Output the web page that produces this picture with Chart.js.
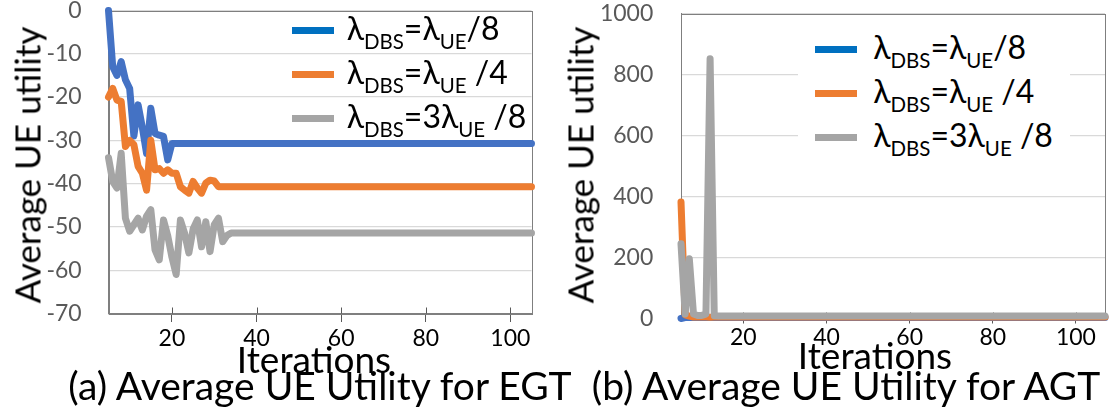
<!DOCTYPE html>
<html>
<head>
<meta charset="utf-8">
<title>Average UE utility</title>
<script src="https://cdn.jsdelivr.net/npm/chart.js@4.4.0/dist/chart.umd.min.js"></script>
<style>
  html, body { margin: 0; padding: 0; background: #fff; }
  #page { position: relative; width: 1119px; height: 417px; overflow: hidden;
          font-family: Lato, "Noto Sans", sans-serif; color: #000; }
  .panel { position: absolute; top: 0; height: 417px; }
  #panel-egt { left: 0; width: 556px; }
  #panel-agt { left: 556px; width: 563px; }
  .txt { position: absolute; white-space: nowrap; line-height: 1; }
  .ytitle { font-size: 35px; transform: translate(-50%, -50%) rotate(-90deg); }
  .xtitle { font-size: 37px; transform: translateX(-50%); }
  .caption { font-size: 39px; transform: translateX(-50%); }
  .legend { position: absolute; }
  .legend.boxed { background: #fff; }
  .legend .row { position: absolute; left: 0; height: 0; }
  .legend .sw { position: absolute; top: -13.5px; width: 42px; height: 7px; }
  .legend .lbl { position: absolute; top: -28.4px; font-size: 32px; line-height: 32px; white-space: nowrap; }
  .legend sub { font-size: 0.64em; vertical-align: -9px; line-height: 0; }
</style>
</head>
<body>
<div id="page">
  <div class="panel" id="panel-egt"><canvas id="egt"></canvas></div>
  <div class="panel" id="panel-agt"><canvas id="agt"></canvas></div>

  <div class="txt ytitle" style="left:27px; top:165px;">Average UE utility</div>
  <div class="txt ytitle" style="left:580px; top:165px;">Average UE utility</div>
  <div class="txt xtitle" style="left:314px; top:340px;">Iterations</div>
  <div class="txt xtitle" style="left:875px; top:336px;">Iterations</div>
  <div class="txt caption" style="left:320px; top:366px;">(a) Average UE Utility for EGT</div>
  <div class="txt caption" style="left:846px; top:366px;">(b) Average UE Utility for AGT</div>

  <div class="legend" id="leg-egt" style="left:292px; top:40.5px;"></div>
  <div class="legend boxed" id="leg-agt" style="left:798px; top:20px; width:272px; height:150px;"></div>
</div>

<script>
const FONT = 'Lato, "Noto Sans", sans-serif';

// shared
const xTickValues  = [20, 40, 60, 80, 100];
const seriesLabels = [
  'λ<sub>DBS</sub>=λ<sub>UE</sub>/8',
  'λ<sub>DBS</sub>=λ<sub>UE</sub> /4',
  'λ<sub>DBS</sub>=3λ<sub>UE</sub> /8'
];
const seriesColors = ['#4472C4', '#ED7D31', '#A5A5A5'];
const legendColors = ['#0070C0', '#ED7D31', '#A5A5A5'];

// (a) EGT — all three settle after ~35 iterations, last point closes the flat tail
const egtIter   = [5, 6, 7, 8, 9, 10, 11, 12, 13, 14, 15, 16, 17, 18, 19, 20,
                   21, 22, 23, 24, 25, 26, 27, 28, 29, 30, 31, 32, 33, 34, 35, 105];
const egtBlue   = [0, -13, -15, -11.8, -16, -18, -29, -21.8, -27, -33, -22.6, -28.4, -28.8, -29.1, -34.5, -30.7,
                   -30.7, -30.7, -30.7, -30.7, -30.7, -30.7, -30.7, -30.7, -30.7, -30.7, -30.7, -30.7, -30.7, -30.7, -30.7, -30.7];
const egtOrange = [-20, -18, -20.7, -21, -31.4, -30, -31, -36, -37.6, -41.5, -30, -36.8, -36.5, -37.6, -36.8, -37.6,
                   -37.6, -40.7, -41.5, -42.2, -39.5, -41, -42.2, -39.9, -39.2, -39.4, -40.7, -40.7, -40.7, -40.7, -40.7, -40.7];
const egtGrey   = [-34, -39.5, -41, -33, -48, -51, -49.5, -48, -50.7, -47.5, -46, -55.3, -57.6, -48.4, -52, -57,
                   -61, -48.4, -51.5, -56, -50.5, -48.4, -54.6, -48.8, -55.7, -49.5, -48, -53.4, -52, -51.4, -51.4, -51.4];

// (b) AGT
const agtIter   = [5, 6, 7, 8, 9, 10, 11, 12, 13, 14, 107];
const agtBlue   = [0, 3, 4, 3, 3, 3, 3, 3, 3, 3, 3];
const agtOrange = [382, 12, 8, 5, 6, 5, 5, 4, 5, 5, 5];
const agtGrey   = [245, 15, 196, 15, 10, 10, 14, 852, 9, 8, 8];

// plot-area frame and the inner half of the cross tick marks
const frame = {
  id: 'frame',
  beforeDatasetsDraw(chart) {
    const { ctx, chartArea: a, scales: { x } } = chart;
    ctx.save();
    ctx.strokeStyle = '#7F7F7F';
    ctx.lineWidth = 1;
    ctx.strokeRect(Math.round(a.left) + 0.5, Math.round(a.top) + 0.5,
                   Math.round(a.width), Math.round(a.height));
    ctx.strokeStyle = '#595959';
    x.ticks.forEach(t => {
      const px = Math.round(x.getPixelForValue(t.value)) + 0.5;
      ctx.beginPath();
      ctx.moveTo(px, a.bottom);
      ctx.lineTo(px, a.bottom - 6);
      ctx.stroke();
    });
    ctx.restore();
  }
};

function lineChart(id, iter, series, cfg) {
  return new Chart(document.getElementById(id), {
    type: 'line',
    data: {
      datasets: series.map((vals, i) => ({
        label: seriesLabels[i].replace(/<\/?sub>/g, ''),
        data: iter.map((x, k) => ({ x, y: vals[k] })),
        borderColor: seriesColors[i],
        borderWidth: 7,
        borderJoinStyle: 'round',
        borderCapStyle: 'round',
        pointRadius: 0,
        tension: 0,
        clip: false,
        order: series.length - i   // later series drawn on top
      }))
    },
    options: {
      animation: false,
      responsive: true,
      maintainAspectRatio: false,
      events: [],
      layout: { padding: cfg.pad },
      plugins: { legend: { display: false }, tooltip: { enabled: false } },
      scales: {
        x: {
          type: 'linear',
          min: cfg.xMin, max: cfg.xMax,
          afterBuildTicks: s => { s.ticks = xTickValues.map(value => ({ value })); },
          afterFit: s => { s.height = 40; s.paddingLeft = 0; s.paddingRight = 0; },
          grid: { drawOnChartArea: false, tickLength: cfg.tickOut, color: '#595959', lineWidth: 1 },
          border: { color: '#7F7F7F' },
          ticks: { font: { family: FONT, size: 23 }, color: '#000', padding: cfg.xPad,
                   maxRotation: 0, autoSkip: false }
        },
        y: {
          min: cfg.yMin, max: cfg.yMax,
          afterFit: s => { s.width = cfg.yWidth; s.paddingTop = 0; s.paddingBottom = 0; },
          grid: { color: '#D9D9D9', lineWidth: 1.3, drawTicks: false },
          border: { color: '#7F7F7F' },
          ticks: { stepSize: cfg.yStep, font: { family: FONT, size: 23 }, color: '#595959',
                   padding: cfg.yPad, callback: v => String(v) }
        }
      }
    },
    plugins: [frame]
  });
}

function buildLegend(id, top0, pitch, swX, txtX) {
  const el = document.getElementById(id);
  seriesLabels.forEach((html, i) => {
    const row = document.createElement('div');
    row.className = 'row';
    row.style.top = (top0 + i * pitch) + 'px';
    row.innerHTML =
      `<i class="sw" style="left:${swX}px;background:${legendColors[i]}"></i>` +
      `<span class="lbl" style="left:${txtX}px">${html}</span>`;
    el.appendChild(row);
  });
}

lineChart('egt', egtIter, [egtBlue, egtOrange, egtGrey], {
  pad: { left: 0, top: 10.5, right: 24.5, bottom: 63.5 },
  yWidth: 108.5, yPad: 26.8, yMin: -70, yMax: 0, yStep: 10,
  xMin: 5, xMax: 105, tickOut: 8.5, xPad: 3
});

lineChart('agt', agtIter, [agtBlue, agtOrange, agtGrey], {
  pad: { left: 0, top: 13.5, right: 14, bottom: 58.5 },
  yWidth: 125, yPad: 27.7, yMin: 0, yMax: 1000, yStep: 200,
  xMin: 5, xMax: 107, tickOut: 5, xPad: 0
});

buildLegend('leg-egt', 0, 43.8, 0, 54.7);
buildLegend('leg-agt', 39.7, 44, 17, 75.3);
</script>
</body>
</html>
